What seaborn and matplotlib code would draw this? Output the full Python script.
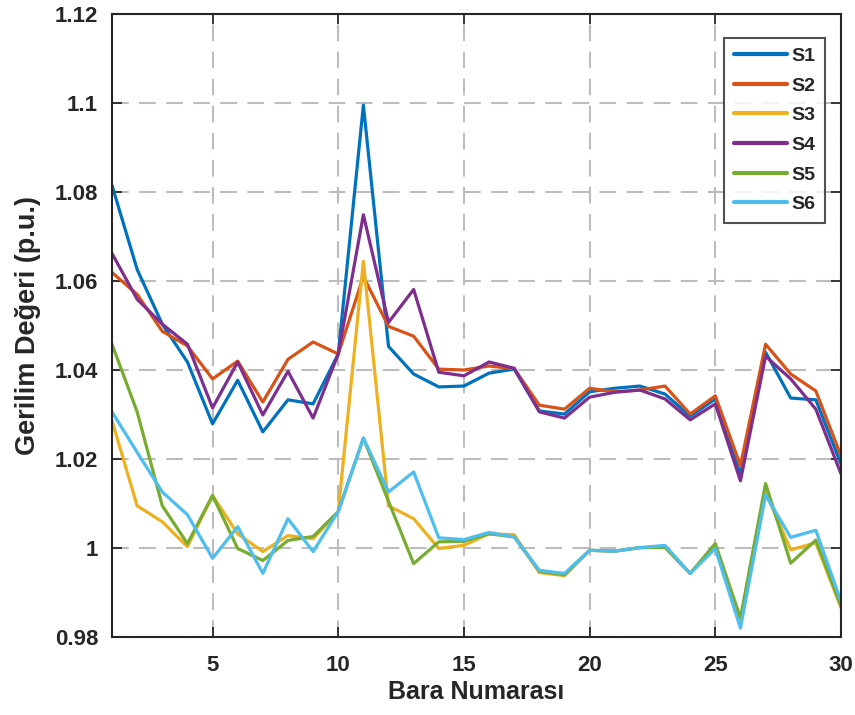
import numpy as np
import pandas as pd
import matplotlib
matplotlib.use("Agg")
import matplotlib.pyplot as plt
import seaborn as sns

# Bus numbers and per-unit voltage profiles for six scenarios
bus = list(range(1, 31))

s1 = [1.0815, 1.0626, 1.0503, 1.0418, 1.0279, 1.0377, 1.0261, 1.0333, 1.0324, 1.0436,
      1.0995, 1.0453, 1.0391, 1.0362, 1.0364, 1.0393, 1.0402, 1.0308, 1.0301, 1.0351,
      1.0359, 1.0364, 1.0346, 1.0296, 1.0335, 1.0165, 1.0440, 1.0337, 1.0333, 1.0189]
s2 = [1.0619, 1.0570, 1.0487, 1.0454, 1.0380, 1.0420, 1.0328, 1.0424, 1.0463, 1.0436,
      1.0610, 1.0498, 1.0476, 1.0402, 1.0400, 1.0409, 1.0403, 1.0321, 1.0312, 1.0359,
      1.0351, 1.0355, 1.0364, 1.0301, 1.0342, 1.0185, 1.0458, 1.0391, 1.0353, 1.0207]
s3 = [1.0286, 1.0095, 1.0059, 1.0003, 1.0118, 1.0032, 0.9992, 1.0028, 1.0021, 1.0082,
      1.0644, 1.0095, 1.0066, 0.9999, 1.0006, 1.0032, 1.0030, 0.9945, 0.9938, 0.9995,
      0.9993, 1.0001, 1.0003, 0.9943, 1.0002, 0.9830, 1.0125, 0.9996, 1.0012, 0.9866]
s4 = [1.0662, 1.0559, 1.0503, 1.0458, 1.0315, 1.0418, 1.0299, 1.0397, 1.0292, 1.0436,
      1.0749, 1.0507, 1.0581, 1.0395, 1.0387, 1.0418, 1.0404, 1.0306, 1.0292, 1.0339,
      1.0350, 1.0355, 1.0335, 1.0288, 1.0324, 1.0151, 1.0431, 1.0380, 1.0312, 1.0167]
s5 = [1.0458, 1.0306, 1.0095, 1.0010, 1.0118, 0.9999, 0.9972, 1.0017, 1.0026, 1.0082,
      1.0247, 1.0105, 0.9965, 1.0014, 1.0015, 1.0032, 1.0025, 0.9948, 0.9940, 0.9995,
      0.9993, 1.0001, 1.0001, 0.9943, 1.0010, 0.9843, 1.0145, 0.9966, 1.0018, 0.9870]
s6 = [1.0306, 1.0215, 1.0126, 1.0075, 0.9977, 1.0048, 0.9943, 1.0066, 0.9992, 1.0082,
      1.0247, 1.0126, 1.0171, 1.0023, 1.0019, 1.0035, 1.0025, 0.9950, 0.9943, 0.9995,
      0.9993, 1.0001, 1.0006, 0.9943, 0.9999, 0.9820, 1.0119, 1.0024, 1.0040, 0.9880]

series_names = ["S1", "S2", "S3", "S4", "S5", "S6"]
series_values = [s1, s2, s3, s4, s5, s6]
colors = ["#0072BD", "#D95319", "#EDB120", "#7E2F8E", "#77AC30", "#4DBEEE"]

x_ticks = [5, 10, 15, 20, 25, 30]
y_ticks = [0.98, 1.0, 1.02, 1.04, 1.06, 1.08, 1.10, 1.12]
y_tick_labels = ["0.98", "1", "1.02", "1.04", "1.06", "1.08", "1.1", "1.12"]

df = pd.concat(
    [pd.DataFrame({"Bara": bus, "V": v, "Senaryo": n})
     for n, v in zip(series_names, series_values)],
    ignore_index=True,
)

sns.set_theme(style="white")
plt.rcParams["font.family"] = ["Liberation Sans", "DejaVu Sans"]
plt.rcParams["font.weight"] = "bold"

fig = plt.figure(figsize=(8.55, 7.15), dpi=100)
ax = fig.add_axes([0.131, 0.109, 0.8526, 0.8715])

sns.lineplot(data=df, x="Bara", y="V", hue="Senaryo", palette=colors,
             linewidth=2.3, ax=ax, legend=True)

ax.set_xlim(1, 30)
ax.set_ylim(0.98, 1.12)
ax.set_xticks(x_ticks)
ax.set_yticks(y_ticks)
ax.set_yticklabels(y_tick_labels)

ax.grid(True, linestyle=(0, (8, 5)), color="#bcbcbc", linewidth=1.5)
ax.set_axisbelow(True)

for sp in ax.spines.values():
    sp.set_visible(True)
    sp.set_color("#262626")
    sp.set_linewidth(1.5)

ax.tick_params(direction="in", length=7, width=1.3, color="#262626",
               labelsize=16, labelcolor="#262626",
               top=True, right=True, bottom=True, left=True)
ax.tick_params(axis="x", pad=13)
ax.tick_params(axis="y", pad=10)
for lbl in ax.get_xticklabels() + ax.get_yticklabels():
    lbl.set_fontweight("bold")

ax.set_xlabel("Bara Numarası", fontsize=18, fontweight="bold", color="#262626", labelpad=3)
ax.set_ylabel("Gerilim Değeri (p.u.)", fontsize=19.5, fontweight="bold", color="#262626", labelpad=10)

handles, labels = ax.get_legend_handles_labels()
leg = ax.legend(handles, labels, loc="upper right", bbox_to_anchor=(0.9785, 0.962),
                prop={"weight": "bold", "size": 14},
                frameon=True, fancybox=False, handlelength=2.7, handletextpad=0.25,
                labelspacing=0.62, borderpad=0.5, borderaxespad=0.0)
leg.get_frame().set_edgecolor("#262626")
leg.get_frame().set_linewidth(1.5)
for line in leg.get_lines():
    line.set_linewidth(3)

fig.savefig("out.png", dpi=100)
